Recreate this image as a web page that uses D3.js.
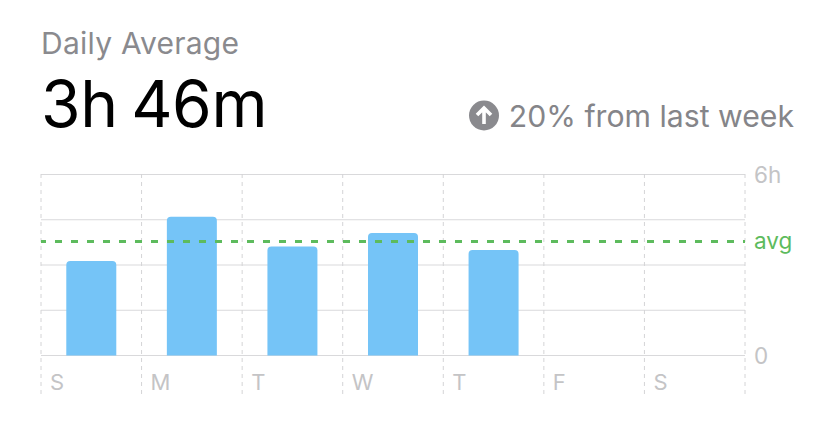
<!DOCTYPE html>
<html><head><meta charset="utf-8">
<script src="https://cdn.jsdelivr.net/npm/d3@7"></script>
<style>html,body{margin:0;padding:0;background:#fff}svg{display:block}text{font-family:Inter,Roboto,sans-serif}</style>
</head><body><svg id="c" width="834" height="422"></svg>
<script>
const days=["S","M","T","W","T","F","S"];
const hours=[3.13,4.6,3.61,4.06,3.5,null,null];
const yTicks=[0,1.5,3,4.5,6];
const yLabels={0:"0",6:"6h"};
const avgValue=3.78;
const title="Daily Average", big="3h 46m", delta="20% from last week";

const svg=d3.select("#c");
const x=d3.scaleBand().domain(d3.range(days.length)).range([41,745]).paddingInner(0).paddingOuter(0);
const y=d3.scaleLinear().domain([0,6]).range([355.5,174.5]);

svg.append("text").attr("x",41).attr("y",54).attr("font-size",30).attr("fill","#8a8a8e").attr("letter-spacing",0.25).text(title);
svg.append("text").attr("x",41).attr("y",127).attr("font-size",64).attr("fill","#000").attr("letter-spacing",-0.4).attr("word-spacing",-4).text(big);
svg.append("circle").attr("cx",484).attr("cy",115.5).attr("r",15).attr("fill","#8a8a8e");
svg.append("path").attr("d","M484 124V108.5M477 115L484 108L491 115").attr("stroke","#fff").attr("stroke-width",3.6).attr("fill","none");
svg.append("text").attr("x",794).attr("y",127).attr("text-anchor","end").attr("font-size",30.2).attr("fill","#858589").text(delta);

svg.append("g").selectAll("line").data(yTicks).join("line")
 .attr("x1",41).attr("x2",745).attr("y1",d=>y(d)).attr("y2",d=>y(d)).attr("stroke","#d9d9db").attr("stroke-width",1);
svg.append("g").selectAll("line").data(d3.range(days.length+1)).join("line")
 .attr("x1",d=>41+d*x.step()).attr("x2",d=>41+d*x.step()).attr("y1",174).attr("y2",396)
 .attr("stroke","#d4d4d6").attr("stroke-width",1).attr("stroke-dasharray","4 4");

const bw=50;
svg.append("g").selectAll("path").data(hours.map((h,i)=>({h,i})).filter(d=>d.h!=null)).join("path")
 .attr("fill","#75c4f7")
 .attr("d",d=>{const l=x(d.i)+(x.step()-bw)/2,r=l+bw,t=y(d.h),b=y(0),q=4;
   return `M${l} ${b}V${t+q}Q${l} ${t} ${l+q} ${t}H${r-q}Q${r} ${t} ${r} ${t+q}V${b}Z`;});

svg.append("line").attr("x1",41).attr("x2",745).attr("y1",y(avgValue)).attr("y2",y(avgValue))
 .attr("stroke","#5dbb5d").attr("stroke-width",3).attr("stroke-dasharray","7 9").attr("stroke-dashoffset",2);

svg.append("g").selectAll("text").data(days).join("text")
 .attr("x",(d,i)=>x(i)+9).attr("y",390).attr("font-size",22).attr("fill","#c4c4c6").text(d=>d);
svg.append("g").selectAll("text").data(yTicks.filter(d=>yLabels[d])).join("text")
 .attr("x",754).attr("y",d=>y(d)+8).attr("font-size",22.5).attr("fill","#c4c4c6").text(d=>yLabels[d]);
svg.append("text").attr("x",754).attr("y",y(avgValue)+8).attr("font-size",22.5).attr("fill","#5dbb5d").text("avg");
</script></body></html>
